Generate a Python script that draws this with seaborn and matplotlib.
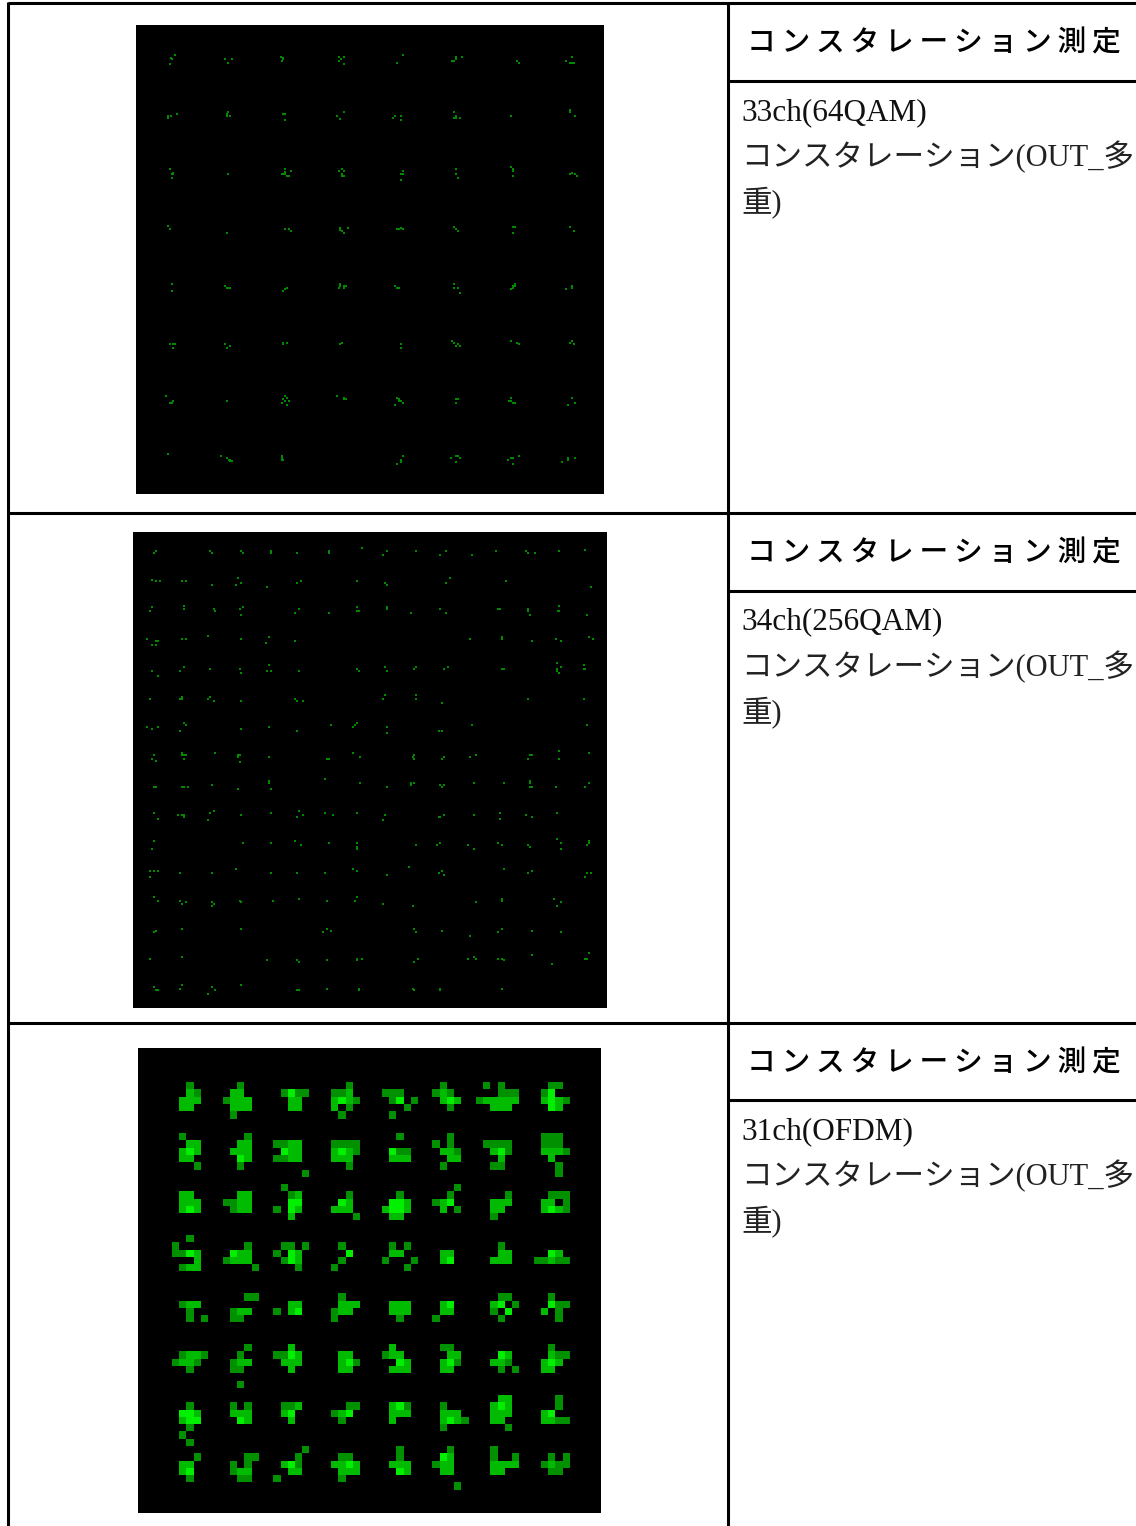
import numpy as np
import pandas as pd
import matplotlib
matplotlib.use('Agg')
import matplotlib.pyplot as plt
from matplotlib.colors import ListedColormap
import seaborn as sns

sns.set_theme(style='white')
plt.rcParams['font.family'] = ['Liberation Serif', 'Noto Sans CJK JP', 'DejaVu Sans']

# Table text
title = '\u2009'.join('コンスタレーション測定')
channels = ['33ch(64QAM)', '34ch(256QAM)', '31ch(OFDM)']
body_line_1 = 'コンスタレーション(OUT_多'
body_line_2 = '重)'

# 33ch constellation, I/Q
points_64qam = [
    (124,112),(125,116),(136,104),(119,132),(284,115),(306,116),(295,127),(453,109),(460,116),(455,122),(458,113),
    (628,110),(642,110),(632,116),(626,121),(642,132),(818,104),(802,127),(978,110),(978,116),(995,110),(972,121),(966,122),
    (1160,121),(1166,127),(1325,110),(1308,121),(1320,127),(1326,127),(1331,127),
    (113,288),(113,292),(124,286),(141,281),(295,275),(290,281),(290,287),(301,287),(460,281),(466,281),(466,298),
    (642,275),(620,286),(631,297),(796,287),(790,292),(813,286),(813,298),(972,275),(978,287),(972,292),(978,292),(989,292),
    (1144,287),(1320,270),(1320,275),(1336,287),
    (119,445),(130,457),(125,462),(130,462),(125,473),(295,462),(466,445),(482,451),(466,456),(455,462),(460,462),(466,462),
    (472,468),(477,468),(636,445),(642,451),(626,451),(636,462),(636,468),(642,468),(818,451),(813,462),(818,462),(813,479),
    (978,445),(978,462),(984,473),(1144,440),(1149,445),(1149,451),(1149,468),(1325,457),(1319,462),(1336,462),(1342,468),
    (113,616),(119,627),(290,638),(466,627),(477,627),(483,632),(653,622),(631,622),(631,628),(636,633),(642,638),
    (802,627),(808,627),(813,622),(818,627),(972,621),(978,627),(984,632),(1149,621),(1155,621),(1149,638),(1320,621),(1331,632),
    (125,792),(125,814),(284,797),(290,803),(296,803),(301,803),(472,803),(466,808),(460,814),(631,792),(631,798),(626,803),
    (642,798),(648,798),(642,803),(796,797),(802,803),(807,803),(972,792),(972,803),(984,803),(989,820),
    (1155,792),(1155,798),(1149,798),(1149,803),(1144,808),(1325,798),(1325,803),(1308,808),
    (119,973),(130,973),(136,973),(130,985),(284,973),(301,979),(290,985),(460,968),(460,973),(472,968),(636,968),(631,973),
    (813,973),(813,985),(966,962),(972,968),(984,973),(978,979),(989,979),(1144,962),(1160,968),(1166,973),(1325,962),(1320,968),(1331,973),
    (108,1127),(130,1144),(125,1149),(119,1150),(290,1144),(466,1127),(472,1133),(460,1138),(477,1144),(466,1144),(455,1150),(472,1155),
    (620,1127),(642,1133),(642,1138),(648,1138),(802,1133),(807,1138),(813,1144),(818,1150),(796,1155),(807,1144),
    (978,1138),(984,1138),(978,1150),(1144,1133),(1138,1144),(1144,1144),(1149,1150),(1155,1150),(1325,1133),(1336,1150),(1314,1155),
    (113,1303),(273,1308),(290,1314),(296,1319),(301,1324),(307,1324),(301,1319),(455,1308),(455,1314),(455,1319),(460,1319),
    (818,1308),(813,1319),(813,1325),(802,1331),(978,1308),(984,1308),(962,1314),(989,1314),(978,1325),
    (1144,1314),(1149,1314),(1166,1308),(1133,1320),(1149,1331),(1336,1314),(1314,1314),(1314,1320),(1297,1325),
]

# 34ch constellation
points_256qam = [
    (78,70),(72,76),(240,70),(245,76),(334,70),(340,76),(424,70),(424,76),(502,76),(597,70),(597,76),(697,59),(770,70),(758,82),
    (859,70),(948,70),(931,82),(1026,82),(1099,70),(1188,70),(1194,76),(1216,76),(1288,70),(1366,65),
    (67,155),(78,160),(90,160),(156,160),(167,160),(245,171),(323,149),(334,166),(318,171),(412,177),(513,160),(502,166),(680,160),
    (764,166),(770,171),(959,149),(948,166),(1127,160),(1383,177),
    (67,238),(61,250),(162,233),(162,244),(251,244),(256,250),(340,238),(329,244),(334,261),(507,244),(496,256),(597,256),(680,238),
    (680,250),(686,250),(770,238),(770,244),(842,256),(931,244),(948,256),(1105,244),(1110,244),(1193,244),(1193,250),(1199,261),
    (1288,233),(1283,250),(1288,250),(1372,261),
    (50,334),(78,340),(84,340),(67,351),(78,351),(156,334),(167,334),(234,323),(334,334),(418,328),(407,345),(496,340),(1021,334),
    (1116,328),(1116,334),(1205,340),(1277,334),(1294,340),(1378,328),(1389,334),
    (67,430),(84,446),(162,418),(151,430),(240,424),(329,424),(334,435),(418,412),(412,430),(424,430),(507,430),(680,424),(686,430),
    (764,418),(770,430),(859,418),(853,424),(954,418),(942,424),(1116,424),(1121,424),(1282,407),(1294,418),(1282,424),(1282,430),
    (1288,435),(1361,412),(1361,424),(1366,424),
    (61,514),(156,508),(151,514),(156,514),(240,508),(234,514),(251,519),(334,519),(496,514),(502,519),(518,519),(764,503),(758,514),
    (859,503),(859,514),(937,525),(1193,514),(1361,514),
    (50,598),(84,598),(67,604),(162,587),(167,592),(151,609),(334,604),(418,598),(502,609),(602,592),(680,587),(675,592),(670,598),
    (770,598),(770,615),(926,609),(937,609),(1026,592),(1372,592),
    (256,676),(156,676),(156,682),(162,682),(167,682),(162,693),(72,682),(67,693),(78,699),(323,682),(329,682),(323,687),(329,704),
    (418,688),(592,693),(597,693),(669,676),(691,688),(853,682),(848,688),(853,693),(942,688),(937,693),(1037,682),(1021,688),
    (1199,682),(1205,682),(1193,693),(1288,671),(1288,693),(1378,676),
    (72,777),(78,777),(156,777),(162,777),(173,777),(245,772),(323,783),(418,760),(418,766),(424,783),(586,755),(691,766),(770,777),
    (842,766),(842,772),(853,766),(931,772),(942,772),(937,777),(1032,766),(1121,766),(1199,760),(1199,766),(1199,777),(1205,777),
    (1277,777),(1378,766),(1366,777),
    (72,856),(84,873),(145,861),(156,861),(162,861),(162,867),(251,850),(240,856),(234,878),(334,861),(424,856),(507,850),(518,861),
    (502,867),(586,856),(608,861),(680,856),(764,861),(758,878),(942,861),(926,867),(931,867),(1032,861),(1110,856),(1110,873),
    (1188,861),(1205,867),(1282,856),
    (72,940),(67,963),(340,946),(424,946),(496,940),(513,952),(597,946),(680,946),(680,957),(680,963),(859,952),(931,946),(920,952),
    (1015,952),(1032,963),(1105,946),(1116,952),(1193,952),(1199,957),(1282,935),(1294,946),(1294,963),(1378,940),(1378,946),(1372,952),
    (61,1030),(72,1030),(84,1030),(61,1047),(151,1036),(245,1036),(318,1024),(424,1036),(502,1036),(586,1036),(669,1024),(680,1030),
    (770,1041),(837,1019),(937,1030),(926,1036),(942,1041),(1121,1024),(1205,1030),(1193,1036),(1372,1036),(1383,1036),(1366,1047),
    (72,1108),(84,1120),(151,1120),(167,1125),(156,1131),(245,1125),(251,1131),(245,1136),(329,1120),(334,1125),(429,1120),(507,1114),
    (592,1120),(680,1108),(675,1120),(758,1131),(848,1136),(1037,1125),(1116,1114),(1116,1120),(1271,1114),(1294,1125),(1282,1136),
    (78,1210),(72,1215),(156,1204),(334,1204),(591,1204),(602,1210),(580,1215),(853,1204),(859,1215),(937,1210),(1021,1226),(1116,1204),
    (1105,1215),(1205,1210),(1294,1215),
    (61,1294),(156,1288),(412,1299),(502,1299),(507,1304),(592,1299),(680,1294),(680,1299),(697,1294),(864,1294),(853,1305),(1015,1294),
    (1032,1288),(1037,1294),(1105,1294),(1116,1294),(1121,1299),(1205,1282),(1266,1310),(1378,1277),(1366,1294),(1372,1294),
    (72,1378),(78,1389),(84,1389),(156,1372),(151,1384),(245,1378),(256,1389),(234,1400),(334,1372),(502,1389),(507,1389),(592,1384),
    (686,1384),(686,1389),(848,1384),(853,1389),(931,1384),(931,1389),(1116,1384),
]

# 31ch density cells (. none, 1 low, 2 mid, 3 high), one 7 cell chunk per symbol
blank = '. . . . . . . .'.replace('.', '.......')
ofdm_rows = [
    '..1.... ..1.... ....... ...1... ....... ..1.... .1.1... ...11..',
    '..21... .22.... .1311.. .112... .111... .121... ...111. ..13...',
    '.222... 1222... ..22... .2321.. ..13.1. ..232.. 122222. ..2321.',
    '.22.... .222... ..22... .2.1... ....1.. ...1... ..222.. ...32..',
    '....... .1..... ....... ..1.... ..1.... ....... ....... .......',
    blank,
    blank,
    '.1..... ...1... ....... ....... ...1... ...1... ....... ..111..',
    '..22... ..22... 1122... .1111.. ....... .1.1... .1111.. ..111..',
    '.232... .222... .322... .2321.. ..311.. ..221.. ..231.. ..2221.',
    '.22.... ..32... 1122... .222... ..222.. ...22.. ...2... ...2...',
    '...1... ..1.... ....... ...1... ....... ..1.... ..11... ....1..',
    '....... ....... ....1.. ....... ....... ....... ....... ....1..',
    blank,
    '....... ....... .1..... ....... ....... ....1.. ....... .......',
    '.22.... ..22... ..12... ...1... ...1... ...1... ....1.. ...111.',
    '.222... 1122... ..33... ..32... ..332.. .123... ..222.. ..22.1.',
    '.232... .122... 1.32... .222... .2332.. ..2.1.. ..22... ..2321.',
    '....... ....... ..2.... ....1.. ..22... ....... ..1.... .......',
    blank,
    blank,
    '..1.... ....... ....... ....... ....... ....... ....... .......',
    '1...... ...1... .11.1.. ..1.... ..1.1.. ....... ...1... .......',
    '1132... .322... 1.32... ...3... ..22... ..22... ...22.. ...32..',
    '...2... 1222... .132... ..1.... .1...1. ..23... ..222.. .11211.',
    '.122... ....1.. ...1... .1..... ....1.. ....... ....... .......',
    blank,
    blank,
    blank,
    '....... ...11.. ....... ..1.... ....... ....... ...11.. ...1...',
    '.122... ....... ..22... ..222.. ..222.. ..23... ..23.1. ...311.',
    '..1.... .122... 1.23... .122... ..222.. ..22... ..1.3.. ..2.1..',
    '..1.1.. .11.... ....... .1..... ...1... .1..... ...1... ....1..',
    blank,
    blank,
    blank,
    '....... ...1... ..2.... ....... ..2.... ..11... ....... ...1...',
    '.1221.. ..1.... 1132... ..22... .122... ...22.. ...32.. ...211.',
    '1221... .122... .222... ..231.. ...32.. ..231.. ..221.. ..232..',
    '..1.... .11.... ..2.... ..22... ..222.. ..22... ...1.1. ..22...',
    blank,
    '....... ..1.... ....... ....... ....... ....... ....... .......',
    blank,
    '....... ....... ....... ....... ....... ....... ...22.. ....1..',
    '..1.... .1.1... .112... ...11.. ..231.. ..1.... ..232.. ....1..',
    '.332... .222... .23.... .123... ..222.. ..222.. ..222.. ..23...',
    '.233... ..32... ..2.... ..1.... ..2.... ..2321. ..22... ..2211.',
    '..1.... ....... ....... ....... ....... ..1.... ....1.. .......',
    '.1..... ....... ....... ....... ....... ....... ....... .......',
    '..1.... ....... ....... ....... ....... ....... ....... .......',
    '....... ....... ....1.. ....... ...1... ...1... ..1.... .......',
    '...1... ...11.. ...1... ..11... ...1... ..32... ..1..1. ...1.1.',
    '.22.... .1.1... .231... .2232.. ..222.. .122... ..2222. ..1211.',
    '.23.... .122... ..22... ..222.. ...32.. ..22... ..22... ...11..',
    '..1.... ..11... 1...... ..1.... ....... ....... ....... .......',
    '....... ....... ....... ....... ....... ....1.. ....... .......',
    blank,
]


def px_axes(fig, left, top, right, bottom):
    # axes from pixel edges of the 1136x1526 page
    return fig.add_axes([left / 1136, 1 - bottom / 1526, (right - left) / 1136, (bottom - top) / 1526])


def scatter_panel(ax, points, xlim, ylim):
    df = pd.DataFrame(points, columns=['I', 'Q'])
    sns.scatterplot(data=df, x='I', y='Q', marker='s', s=3.2, color='#008a00', linewidth=0, ax=ax, legend=False)
    ax.set_xlim(*xlim)
    ax.set_ylim(*ylim)
    ax.set_facecolor('black')
    ax.set_axis_off()
    ax.add_patch(plt.Rectangle((0, 0), 1, 1, transform=ax.transAxes, color='black', zorder=0))


fig = plt.figure(figsize=(11.36, 15.26), dpi=100, facecolor='white')

# Table rules and text
table = fig.add_axes([0, 0, 1, 1])
table.set_xlim(0, 1136)
table.set_ylim(1526, 0)
table.set_axis_off()
table.hlines([2.5, 513, 1022.5], 8, 1136, color='black', lw=2.2)
table.hlines([81, 590.5, 1100], 728, 1136, color='black', lw=2.2)
table.vlines([8, 728], 2, 1526, color='black', lw=2.2)

title_ys = [44, 554, 1064]
line_ys = [(113, 157, 203), (622, 667, 713), (1132, 1176, 1222)]
for name, ty, ys in zip(channels, title_ys, line_ys):
    table.text(747, ty, title, fontsize=20.7, fontweight='medium', va='center', ha='left', color='black')
    table.text(741, ys[0], name, fontsize=22.5, va='center', ha='left', color='#111111')
    table.text(741, ys[1], body_line_1, fontsize=22, va='center', ha='left', color='#222222')
    table.text(741, ys[2], body_line_2, fontsize=22, va='center', ha='left', color='#222222')

# 33ch and 34ch panels
ax1 = px_axes(fig, 136, 25, 604, 494)
scatter_panel(ax1, points_64qam, (18, 1422), (1422, 14))
ax2 = px_axes(fig, 133, 532, 607, 1008)
scatter_panel(ax2, points_256qam, (9, 1431), (1442, 12))

# 31ch panel
grid = np.array([[0 if c == '.' else int(c) for c in row.replace(' ', '')] for row in ofdm_rows])
ax3 = px_axes(fig, 138, 1048, 601, 1513)
sns.heatmap(grid, ax=ax3, cmap=ListedColormap(['#000000', '#009000', '#00bb00', '#00f000']), vmin=0, vmax=3,
            cbar=False, xticklabels=False, yticklabels=False)
ax3.set_xlim(-4.7, 59.3)
ax3.set_ylim(59.2, -4.7)
ax3.set_facecolor('black')
ax3.add_patch(plt.Rectangle((0, 0), 1, 1, transform=ax3.transAxes, color='black', zorder=0))

fig.savefig('out.png', dpi=100)
